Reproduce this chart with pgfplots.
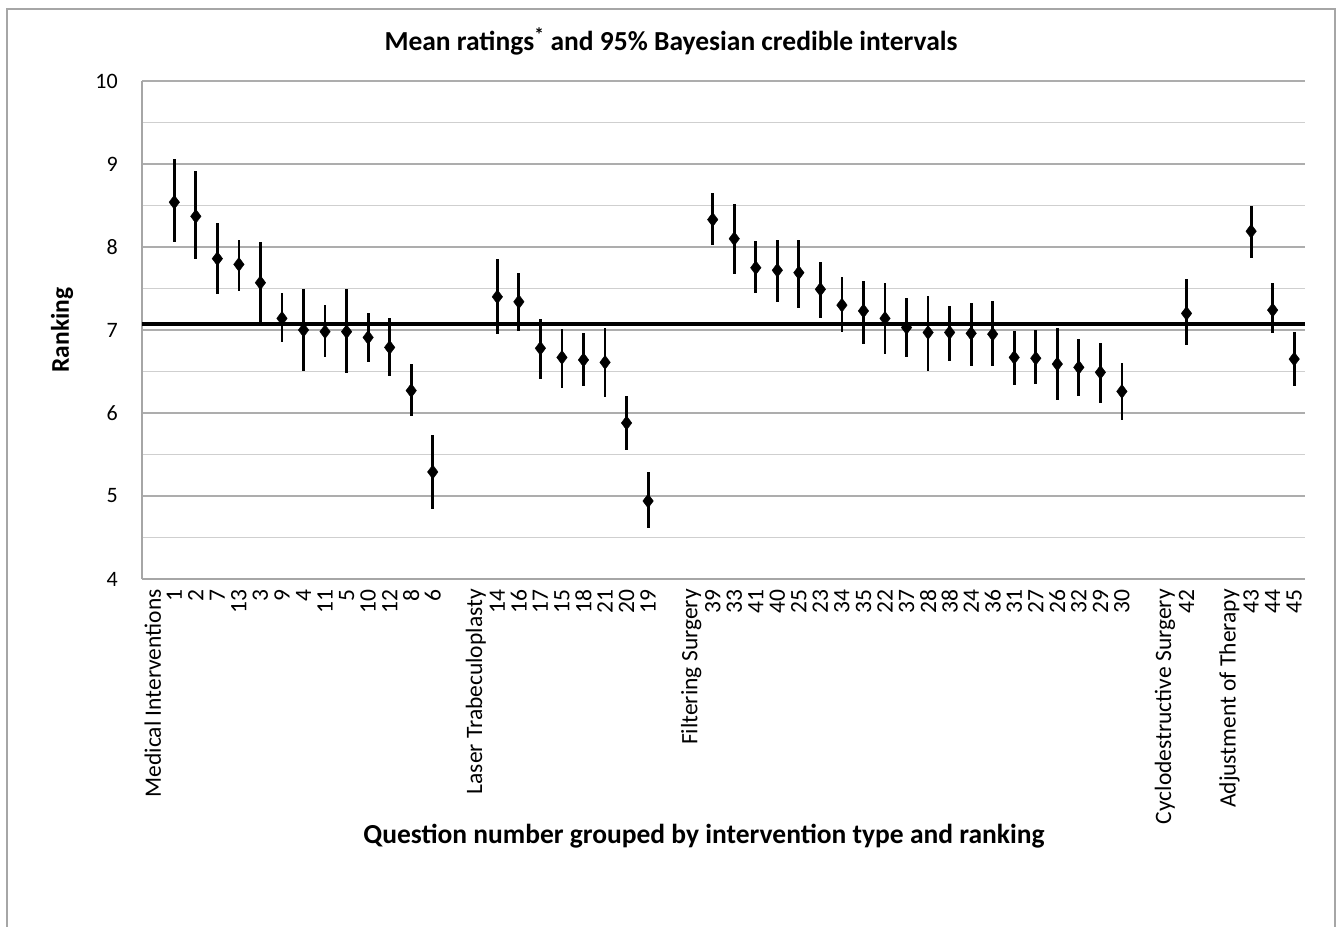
\documentclass[border=0pt]{standalone}
\usepackage{pgfplots}
\pgfplotsset{compat=1.18}
\usepackage{pgfplotstable}
\usepackage{fontspec}
\setmainfont{Carlito}
\newcommand\lab{\fontsize{23.5bp}{27bp}\selectfont}
\newcommand\ylab{\fontsize{22bp}{26bp}\selectfont}
\definecolor{framegray}{HTML}{A6A6A6}
\definecolor{majgrid}{HTML}{ADADAD}
\definecolor{mingrid}{HTML}{CFCFCF}

% x position, mean, upper limit, lower limit
\pgfplotstableread{
x  y    top  bot
1  8.54 9.06 8.06
2  8.37 8.91 7.86
3  7.86 8.29 7.43
4  7.79 8.08 7.47
5  7.57 8.06 7.08
6  7.14 7.45 6.85
7  7.00 7.50 6.51
8  6.98 7.30 6.67
9  6.98 7.49 6.48
10 6.91 7.21 6.62
11 6.79 7.14 6.45
12 6.27 6.59 5.96
13 5.29 5.74 4.84
16 7.40 7.85 6.95
17 7.34 7.69 6.99
18 6.78 7.13 6.41
19 6.67 7.01 6.30
20 6.64 6.96 6.32
21 6.61 7.02 6.19
22 5.88 6.20 5.56
23 4.94 5.29 4.61
26 8.33 8.65 8.02
27 8.10 8.52 7.67
28 7.75 8.07 7.45
29 7.72 8.08 7.34
30 7.69 8.09 7.26
31 7.49 7.82 7.14
32 7.30 7.64 6.97
33 7.23 7.59 6.83
34 7.14 7.57 6.71
35 7.03 7.38 6.67
36 6.97 7.41 6.51
37 6.97 7.29 6.63
38 6.96 7.33 6.57
39 6.95 7.35 6.57
40 6.67 6.99 6.34
41 6.66 7.00 6.35
42 6.59 7.02 6.16
43 6.55 6.89 6.21
44 6.49 6.84 6.12
45 6.26 6.60 5.91
48 7.20 7.61 6.82
51 8.19 8.50 7.87
52 7.24 7.57 6.96
53 6.65 6.97 6.32
}\ratings

\begin{document}
\begin{tikzpicture}
\path[use as bounding box] (-142bp,-348bp) rectangle (1197bp,579bp);
\begin{axis}[
  at={(0bp,0bp)}, anchor=south west,
  scale only axis, width=1163bp, height=498bp,
  xmin=-0.5, xmax=53.5, ymin=4, ymax=10,
  axis x line*=bottom, axis y line*=left,
  axis line style={-, framegray, line width=1.6bp},
  ytick={4,5,6,7,8,9,10},
  minor y tick num=1,
  ymajorgrids, yminorgrids,
  major grid style={majgrid, line width=1.5bp},
  minor grid style={mingrid, line width=1.5bp},
  major tick length=0pt, minor tick length=0pt,
  tick style={draw=none},
  xtick={0,1,2,3,4,5,6,7,8,9,10,11,12,13,15,16,17,18,19,20,21,22,23,25,26,27,28,29,30,31,32,33,34,35,36,37,38,39,40,41,42,43,44,45,47,48,50,51,52,53},
  xticklabels={Medical Interventions,1,2,7,13,3,9,4,11,5,10,12,8,6,Laser Trabeculoplasty,14,16,17,15,18,21,20,19,Filtering Surgery,39,33,41,40,25,23,34,35,22,37,28,38,24,36,31,27,26,32,29,30,Cyclodestructive Surgery,42,Adjustment of Therapy,43,44,45},
  xticklabel style={font=\lab, rotate=90, anchor=east, inner sep=0pt},
  xticklabel shift=10bp,
  yticklabel style={font=\ylab, inner sep=0pt, anchor=east},
  yticklabel shift=24bp,
  /pgf/number format/assume math mode=true,
  title={\textbf{Mean ratings\textsuperscript{*} and 95\% Bayesian credible intervals}},
  title style={font=\fontsize{27.5bp}{32bp}\selectfont, at={(axis description cs:0.4549,1.068)}, anchor=center},
  xlabel={\textbf{Question number grouped by intervention type and ranking}},
  xlabel style={font=\fontsize{27.5bp}{32bp}\selectfont, at={(axis description cs:0.4832,-0.516)}, anchor=center},
  ylabel={\textbf{Ranking}},
  ylabel style={font=\fontsize{25.5bp}{30bp}\selectfont, at={(axis description cs:-0.0688,0.5)}, anchor=center, rotate=0},
  clip=false,
]
\addplot[black, line width=3.6bp, forget plot] coordinates {(-0.5,7.07) (53.5,7.07)};
\addplot[only marks, mark=diamond*, mark size=7bp, black,
  error bars/.cd, y dir=both, y explicit,
  error mark=none,
  error bar style={line width=2.8bp, black}]
  table[x=x, y=y,
        y error plus expr=\thisrow{top}-\thisrow{y},
        y error minus expr=\thisrow{y}-\thisrow{bot}] {\ratings};
\end{axis}
\draw[framegray, line width=2.4bp] (-135bp,-360bp) -- (-135bp,570bp) -- (1193bp,570bp) -- (1193bp,-360bp);
\end{tikzpicture}
\end{document}
